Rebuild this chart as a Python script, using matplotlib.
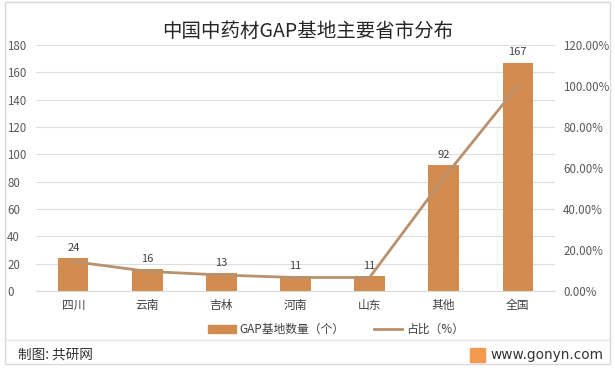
import numpy as np
import matplotlib.pyplot as plt
from matplotlib.patches import Rectangle
from matplotlib.lines import Line2D

plt.rcParams["font.family"] = ["Noto Sans CJK SC", "DejaVu Sans"]

# 数据
provinces = ["四川", "云南", "吉林", "河南", "山东", "其他", "全国"]
base_counts = [24, 16, 13, 11, 11, 92, 167]
share_pct = [14.37, 9.58, 7.78, 6.59, 6.59, 55.09, 100.0]

bar_color = "#D38C4F"
line_color = "#B9916D"
text_color = "#595959"

fig = plt.figure(figsize=(6.15, 3.7), dpi=100, facecolor="white")
ax = fig.add_axes([0.059, 0.2135, 0.843, 0.665])
ax2 = ax.twinx()

x = np.arange(len(provinces))
ax.bar(x, base_counts, width=0.41, color=bar_color, zorder=2)
for xi, v in zip(x, base_counts):
    ax.text(xi, v + 4, str(v), ha="center", va="bottom", fontsize=8, color="#404040")

ax2.plot(x, share_pct, color=line_color, linewidth=2, zorder=3)

ax.set_xlim(-0.5, len(provinces) - 0.5)
ax.set_ylim(0, 180)
ax.set_yticks(np.arange(0, 181, 20))
ax2.set_ylim(0, 120)
ax2.set_yticks(np.arange(0, 121, 20))
ax2.set_yticklabels([f"{t:.2f}%" for t in np.arange(0, 121, 20)])

ax.set_xticks(x)
ax.set_xticklabels(provinces)
ax.grid(axis="y", color="#DEDEDE", linewidth=0.8, zorder=0)
for a in (ax, ax2):
    for s in a.spines.values():
        s.set_visible(False)
    a.tick_params(length=0, labelsize=8.3, colors=text_color)
ax.spines["bottom"].set_visible(True)
ax.spines["bottom"].set_color("#D9D9D9")
ax.tick_params(axis="y", pad=21)
ax.tick_params(axis="x", pad=6, labelsize=8.5, colors="#404040")
ax2.tick_params(axis="y", pad=6)
for lbl in ax.get_yticklabels():
    lbl.set_horizontalalignment("left")

fig.text(0.5, 0.915, "中国中药材GAP基地主要省市分布", ha="center", va="center",
         fontsize=14, color="#262626")

handles = [
    Rectangle((0, 0), 1, 1, color=bar_color),
    Line2D([0], [0], color=line_color, linewidth=2),
]
fig.legend(handles, ["GAP基地数量（个）", "占比（%）"], loc="center",
           bbox_to_anchor=(0.546, 0.11), ncol=2, frameon=False, fontsize=8.5,
           handlelength=2.4, handleheight=0.7, columnspacing=2.5, handletextpad=0.3,
           labelcolor="#404040")

# 外框与页脚
fig.patches.append(Rectangle((0.008, 0.017), 0.984, 0.978, transform=fig.transFigure,
                             fill=False, edgecolor="#D9D9D9", linewidth=1))
fig.add_artist(Line2D([0.008, 0.992], [0.081, 0.081], transform=fig.transFigure,
                      color="#E3E3E3", linewidth=1))
fig.text(0.029, 0.041, "制图: 共研网", ha="left", va="center", fontsize=9.8, color="#333333")
fig.text(0.981, 0.041, "www.gonyn.com", ha="right", va="center", fontsize=9.9,
         color="#333333", family="DejaVu Sans")
fig.patches.append(Rectangle((0.764, 0.022), 0.025, 0.038, transform=fig.transFigure,
                             color="#F39A4E"))

fig.savefig("out.png", dpi=100, facecolor="white")
